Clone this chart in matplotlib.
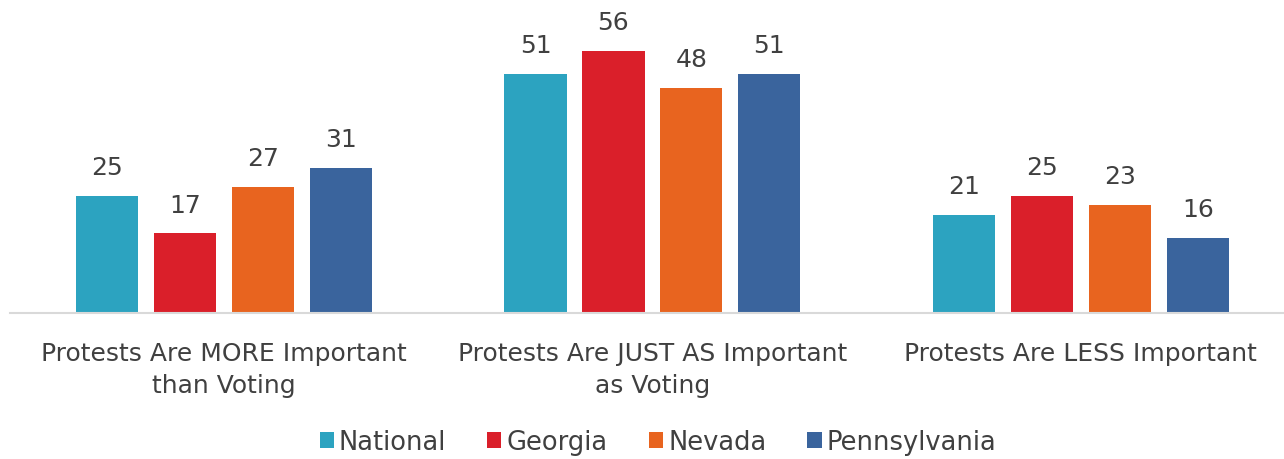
import matplotlib.pyplot as plt
import numpy as np

categories = ["Protests Are MORE Important\nthan Voting",
              "Protests Are JUST AS Important\nas Voting",
              "Protests Are LESS Important"]
series = ["National", "Georgia", "Nevada", "Pennsylvania"]
national = [25, 51, 21]
georgia = [17, 56, 25]
nevada = [27, 48, 23]
pennsylvania = [31, 51, 16]
values = [national, georgia, nevada, pennsylvania]
colors = ["#2CA3C0", "#DA1F2A", "#E8641F", "#3A649D"]

plt.rcParams["font.family"] = ["DejaVu Sans"]
txt = "#404040"

fig = plt.figure(figsize=(12.84, 4.6), dpi=100)
ax = fig.add_axes([10 / 1284, 146 / 460, 1274 / 1284, 281 / 460])

x = np.arange(len(categories))
step = 0.182
width = 0.145
for i, (name, vals, c) in enumerate(zip(series, values, colors)):
    pos = x + (i - 1.5) * step
    bars = ax.bar(pos, vals, width=width, color=c, label=name)
    for b, v in zip(bars, vals):
        ax.text(b.get_x() + b.get_width() / 2, v + 3.6, str(v),
                ha="center", va="bottom", fontsize=18, color=txt)

ax.set_xlim(-0.4994, 2.474)
ax.set_ylim(0, 60)
ax.set_yticks([])
ax.set_xticks(x)
ax.set_xticklabels(categories, fontsize=18, color=txt, linespacing=1.45)
ax.tick_params(axis="x", length=0, pad=20)
for s in ["top", "right", "left"]:
    ax.spines[s].set_visible(False)
ax.spines["bottom"].set_color("#D9D9D9")
ax.spines["bottom"].set_linewidth(1.5)

leg = fig.legend(loc="center", bbox_to_anchor=(658 / 1284, 1 - 443 / 460),
                 ncol=4, frameon=False, fontsize=18.5, handlelength=0.55,
                 handleheight=0.55, handletextpad=0.2, columnspacing=1.6)
for t in leg.get_texts():
    t.set_color(txt)

fig.savefig("out.png", dpi=100)
